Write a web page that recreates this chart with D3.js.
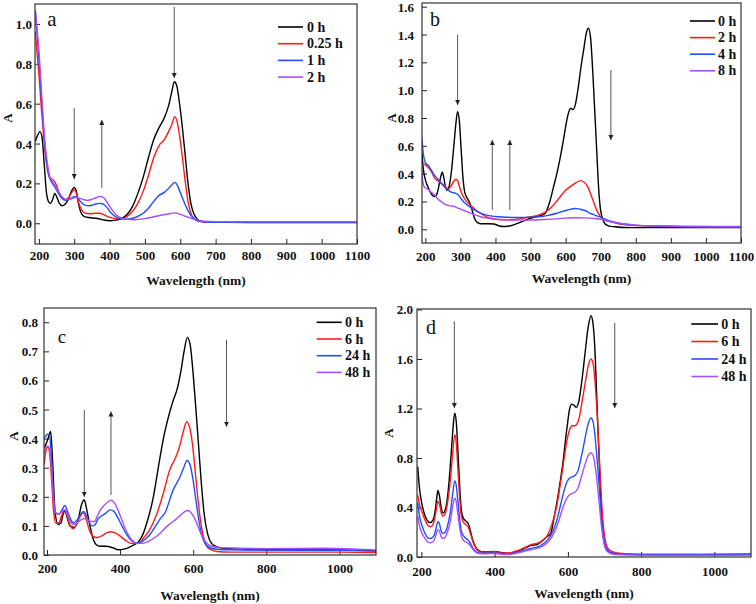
<!DOCTYPE html>
<html><head><meta charset="utf-8">
<script src="https://cdn.jsdelivr.net/npm/d3@7"></script>
<style>
html,body{margin:0;padding:0;background:#fff;}
svg text{font-family:"Liberation Serif","Times New Roman",serif;}
</style></head>
<body><svg id="chart" width="756" height="604"></svg>
<script>
// ---------- DATA ----------
const seriesColors = ["#000000", "#ff1a1a", "#1f4fff", "#a84cff"];

const labelsA = ["0 h", "0.25 h", "1 h", "2 h"];
const labelsB = ["0 h", "2 h", "4 h", "8 h"];
const labelsC = ["0 h", "6 h", "24 h", "48 h"];
const labelsD = ["0 h", "6 h", "24 h", "48 h"];

const xTicksAB = [200,300,400,500,600,700,800,900,1000,1100];
const xTicksCD = [200,400,600,800,1000];
const yTicksA = [0.0,0.2,0.4,0.6,0.8,1.0];
const yTicksB = [0.0,0.2,0.4,0.6,0.8,1.0,1.2,1.4,1.6];
const yTicksC = [0.0,0.1,0.2,0.3,0.4,0.5,0.6,0.7,0.8];
const yTicksD = [0.0,0.4,0.8,1.2,1.6,2.0];

// panel a: [wavelength nm, absorbance]
const a0h = [[190,0.41],[196,0.44],[203,0.46],[209,0.43],[215,0.3],[221,0.16],[227,0.11],[233,0.10],[239,0.12],[245,0.15],[251,0.13],[258,0.1],[266,0.088],[274,0.095],[283,0.12],[292,0.16],[300,0.18],[306,0.16],[313,0.09],[320,0.05],[330,0.032],[345,0.028],[362,0.025],[380,0.018],[400,0.013],[418,0.016],[435,0.025],[450,0.045],[465,0.085],[480,0.15],[495,0.23],[510,0.33],[525,0.42],[540,0.48],[555,0.53],[567,0.59],[576,0.66],[583,0.71],[590,0.69],[598,0.60],[606,0.48],[614,0.34],[622,0.2],[630,0.1],[638,0.05],[648,0.02],[660,0.01],[680,0.005],[800,0.004],[1100,0.004]];
const a025h = [[190,0.96],[195,0.85],[200,0.75],[206,0.6],[212,0.47],[218,0.35],[224,0.27],[230,0.23],[237,0.22],[244,0.21],[250,0.19],[258,0.15],[266,0.125],[275,0.12],[285,0.13],[293,0.155],[300,0.168],[306,0.15],[313,0.1],[322,0.065],[332,0.05],[345,0.048],[360,0.05],[372,0.05],[385,0.042],[400,0.03],[418,0.022],[435,0.022],[450,0.035],[465,0.06],[480,0.1],[495,0.16],[510,0.24],[525,0.33],[540,0.39],[555,0.42],[567,0.46],[577,0.5],[584,0.535],[591,0.51],[598,0.44],[606,0.33],[614,0.21],[622,0.11],[630,0.05],[640,0.02],[655,0.01],[680,0.005],[800,0.005],[1100,0.005]];
const a1h = [[190,1.06],[195,0.95],[200,0.83],[206,0.66],[212,0.5],[218,0.37],[224,0.28],[230,0.23],[238,0.2],[246,0.18],[255,0.15],[265,0.125],[275,0.115],[285,0.12],[295,0.13],[302,0.135],[310,0.125],[320,0.105],[332,0.09],[345,0.088],[358,0.095],[370,0.1],[380,0.098],[392,0.08],[405,0.05],[420,0.03],[435,0.022],[450,0.02],[465,0.025],[480,0.035],[495,0.05],[510,0.075],[525,0.11],[540,0.14],[555,0.155],[567,0.175],[577,0.195],[584,0.205],[592,0.19],[600,0.155],[610,0.11],[620,0.07],[632,0.035],[645,0.015],[660,0.008],[680,0.005],[800,0.005],[1100,0.005]];
const a2h = [[190,1.07],[195,0.97],[200,0.87],[206,0.7],[212,0.53],[218,0.39],[224,0.3],[230,0.24],[238,0.21],[246,0.19],[255,0.16],[265,0.135],[275,0.12],[285,0.12],[295,0.125],[305,0.13],[315,0.125],[325,0.12],[337,0.115],[350,0.12],[362,0.128],[375,0.135],[385,0.125],[395,0.1],[408,0.065],[420,0.04],[435,0.025],[450,0.02],[470,0.018],[495,0.022],[520,0.03],[545,0.04],[570,0.048],[585,0.052],[600,0.045],[615,0.035],[630,0.025],[648,0.015],[665,0.01],[700,0.008],[800,0.007],[1100,0.007]];

// panel b
const b0h = [[190,0.55],[195,0.42],[202,0.34],[210,0.29],[218,0.25],[226,0.235],[234,0.26],[240,0.33],[245,0.39],[248,0.41],[252,0.38],[257,0.31],[262,0.28],[268,0.31],[275,0.43],[282,0.62],[288,0.78],[292,0.845],[297,0.78],[302,0.58],[307,0.38],[312,0.27],[318,0.23],[325,0.2],[332,0.15],[340,0.08],[348,0.05],[360,0.04],[380,0.04],[395,0.038],[410,0.025],[420,0.02],[435,0.022],[455,0.035],[475,0.055],[495,0.075],[515,0.09],[530,0.1],[540,0.11],[555,0.2],[565,0.3],[575,0.4],[585,0.52],[595,0.66],[603,0.78],[610,0.85],[615,0.87],[621,0.86],[628,0.9],[636,1.02],[644,1.17],[652,1.3],[659,1.41],[665,1.445],[671,1.38],[677,1.15],[683,0.85],[689,0.55],[694,0.3],[699,0.15],[705,0.08],[712,0.04],[722,0.025],[740,0.018],[780,0.012],[900,0.012],[1100,0.012]];
const b2h = [[195,0.47],[202,0.46],[210,0.44],[218,0.41],[226,0.37],[235,0.35],[245,0.33],[252,0.32],[260,0.3],[266,0.29],[273,0.31],[280,0.34],[287,0.36],[292,0.35],[298,0.3],[305,0.25],[315,0.21],[325,0.18],[335,0.16],[345,0.135],[360,0.11],[375,0.09],[390,0.078],[405,0.072],[420,0.068],[440,0.068],[460,0.072],[480,0.08],[500,0.09],[520,0.1],[540,0.12],[560,0.16],[580,0.22],[600,0.28],[615,0.31],[630,0.335],[643,0.35],[652,0.34],[662,0.31],[672,0.25],[682,0.18],[692,0.12],[702,0.085],[715,0.065],[735,0.05],[760,0.035],[800,0.027],[900,0.02],[1000,0.018],[1100,0.016]];
const b4h = [[190,0.66],[194,0.55],[200,0.48],[208,0.46],[216,0.43],[226,0.39],[236,0.36],[246,0.33],[256,0.3],[266,0.28],[276,0.265],[285,0.26],[293,0.25],[302,0.22],[312,0.19],[325,0.165],[340,0.14],[355,0.12],[370,0.105],[390,0.095],[410,0.09],[430,0.087],[450,0.085],[475,0.085],[500,0.087],[525,0.09],[550,0.1],[575,0.115],[600,0.135],[615,0.145],[628,0.15],[640,0.145],[655,0.135],[670,0.115],[685,0.1],[700,0.085],[715,0.07],[735,0.055],[760,0.04],[790,0.03],[850,0.025],[950,0.02],[1100,0.017]];
const b8h = [[190,0.42],[193,0.34],[198,0.3],[206,0.29],[215,0.27],[225,0.25],[235,0.22],[245,0.2],[255,0.18],[268,0.17],[282,0.165],[295,0.15],[310,0.135],[325,0.12],[340,0.105],[358,0.09],[375,0.08],[395,0.073],[420,0.07],[450,0.067],[480,0.066],[510,0.067],[540,0.07],[570,0.075],[600,0.08],[630,0.083],[655,0.082],[680,0.078],[700,0.072],[720,0.06],[740,0.05],[765,0.04],[800,0.03],[850,0.025],[950,0.02],[1100,0.02]];

// panel c
const c0h = [[193,0.37],[200,0.39],[205,0.41],[210,0.425],[215,0.33],[222,0.15],[230,0.105],[238,0.11],[244,0.14],[249,0.152],[255,0.13],[263,0.1],[274,0.095],[285,0.12],[295,0.175],[302,0.19],[308,0.16],[316,0.11],[325,0.06],[335,0.035],[345,0.03],[360,0.03],[380,0.025],[395,0.018],[410,0.02],[430,0.03],[450,0.045],[462,0.07],[473,0.11],[491,0.2],[508,0.327],[520,0.41],[530,0.464],[545,0.53],[556,0.57],[566,0.63],[575,0.70],[584,0.748],[592,0.72],[600,0.62],[608,0.49],[615,0.37],[622,0.25],[630,0.14],[640,0.07],[650,0.04],[665,0.028],[690,0.022],[800,0.018],[1000,0.017],[1100,0.015]];
const c6h = [[192,0.31],[196,0.35],[200,0.37],[204,0.37],[208,0.34],[213,0.25],[218,0.15],[224,0.11],[232,0.11],[240,0.135],[249,0.155],[256,0.13],[264,0.1],[272,0.09],[282,0.11],[292,0.135],[300,0.145],[308,0.12],[316,0.085],[325,0.065],[335,0.06],[348,0.065],[362,0.075],[375,0.08],[388,0.075],[400,0.065],[415,0.05],[430,0.04],[450,0.04],[465,0.06],[480,0.085],[500,0.14],[520,0.22],[535,0.29],[550,0.33],[562,0.37],[572,0.42],[582,0.458],[590,0.44],[598,0.38],[606,0.28],[614,0.18],[622,0.1],[632,0.045],[645,0.02],[665,0.012],[700,0.01],[800,0.01],[1000,0.01],[1100,0.008]];
const c24h = [[192,0.4],[197,0.41],[202,0.415],[207,0.41],[212,0.34],[218,0.2],[224,0.145],[232,0.14],[241,0.155],[249,0.17],[256,0.15],[264,0.125],[272,0.11],[282,0.12],[292,0.14],[300,0.15],[308,0.135],[316,0.11],[324,0.1],[332,0.105],[340,0.125],[350,0.135],[362,0.145],[373,0.155],[383,0.15],[393,0.13],[405,0.1],[418,0.07],[432,0.048],[447,0.04],[462,0.048],[478,0.065],[495,0.095],[510,0.125],[522,0.143],[545,0.223],[564,0.269],[574,0.3],[583,0.325],[590,0.315],[598,0.27],[606,0.2],[614,0.13],[622,0.075],[632,0.04],[645,0.025],[665,0.02],[700,0.018],[800,0.017],[1000,0.016],[1100,0.013]];
const c48h = [[192,0.35],[197,0.37],[202,0.375],[207,0.365],[212,0.3],[218,0.19],[224,0.145],[232,0.14],[241,0.15],[249,0.155],[256,0.14],[264,0.115],[272,0.105],[282,0.11],[292,0.12],[300,0.125],[310,0.12],[320,0.115],[330,0.115],[338,0.135],[346,0.155],[356,0.17],[366,0.182],[375,0.188],[384,0.18],[394,0.155],[405,0.12],[418,0.08],[432,0.052],[447,0.04],[462,0.04],[478,0.047],[495,0.06],[510,0.075],[525,0.095],[540,0.11],[555,0.125],[568,0.14],[578,0.15],[586,0.153],[594,0.145],[604,0.125],[614,0.095],[624,0.065],[636,0.042],[650,0.03],[670,0.026],[720,0.024],[800,0.022],[950,0.023],[1050,0.02],[1100,0.017]];

// panel d
const d0h = [[190,0.73],[195,0.55],[200,0.45],[207,0.36],[215,0.3],[224,0.278],[232,0.3],[238,0.38],[242,0.48],[245,0.537],[249,0.5],[254,0.4],[259,0.355],[265,0.38],[272,0.5],[278,0.7],[284,0.95],[288,1.1],[291,1.163],[295,1.1],[299,0.9],[304,0.6],[309,0.38],[315,0.31],[322,0.29],[328,0.27],[333,0.22],[340,0.14],[348,0.08],[358,0.05],[370,0.04],[385,0.043],[398,0.045],[410,0.04],[425,0.032],[440,0.03],[455,0.04],[470,0.055],[485,0.075],[500,0.095],[516,0.1],[530,0.13],[545,0.17],[553,0.19],[563,0.33],[571,0.46],[585,0.73],[598,1.055],[605,1.2],[611,1.235],[617,1.225],[623,1.21],[630,1.26],[638,1.42],[647,1.65],[655,1.85],[663,1.95],[668,1.9],[673,1.72],[680,1.2],[685,0.82],[690,0.46],[695,0.22],[700,0.1],[707,0.05],[720,0.03],[750,0.025],[800,0.02],[1000,0.018],[1100,0.022]];
const d6h = [[190,0.5],[195,0.42],[202,0.36],[210,0.3],[218,0.255],[226,0.245],[234,0.28],[240,0.37],[245,0.45],[249,0.43],[254,0.36],[259,0.33],[265,0.35],[272,0.45],[279,0.62],[285,0.82],[291,0.988],[295,0.93],[299,0.75],[304,0.5],[309,0.33],[315,0.28],[322,0.26],[328,0.24],[334,0.19],[341,0.12],[349,0.07],[358,0.045],[370,0.038],[385,0.04],[398,0.042],[410,0.038],[425,0.03],[440,0.032],[455,0.045],[470,0.06],[485,0.08],[500,0.1],[515,0.11],[530,0.13],[545,0.18],[558,0.28],[570,0.42],[580,0.6],[590,0.8],[598,0.95],[605,1.03],[612,1.06],[618,1.06],[624,1.07],[632,1.14],[640,1.28],[648,1.42],[656,1.55],[663,1.6],[669,1.56],[674,1.42],[680,1.15],[686,0.8],[692,0.45],[698,0.22],[704,0.11],[712,0.06],[725,0.04],[750,0.028],[800,0.02],[1000,0.02],[1100,0.022]];
const d24h = [[190,0.44],[195,0.33],[202,0.25],[210,0.19],[218,0.155],[226,0.15],[234,0.17],[240,0.23],[245,0.285],[249,0.27],[254,0.21],[259,0.19],[265,0.2],[272,0.26],[279,0.36],[285,0.5],[291,0.615],[295,0.58],[299,0.47],[304,0.32],[309,0.21],[315,0.17],[322,0.15],[328,0.135],[334,0.11],[341,0.07],[349,0.045],[358,0.032],[370,0.03],[385,0.032],[398,0.033],[410,0.03],[425,0.025],[440,0.025],[455,0.033],[470,0.045],[485,0.058],[500,0.07],[515,0.08],[530,0.1],[545,0.14],[558,0.2],[570,0.3],[580,0.42],[590,0.54],[598,0.61],[606,0.64],[613,0.65],[620,0.66],[628,0.7],[636,0.8],[645,0.93],[654,1.06],[663,1.123],[669,1.09],[674,0.98],[680,0.78],[686,0.55],[692,0.3],[698,0.15],[704,0.08],[712,0.045],[725,0.03],[750,0.022],[800,0.018],[950,0.02],[1000,0.022],[1100,0.02]];
const d48h = [[190,0.33],[195,0.25],[202,0.19],[210,0.15],[218,0.12],[226,0.115],[234,0.13],[240,0.18],[245,0.22],[249,0.21],[254,0.165],[259,0.15],[265,0.16],[272,0.21],[279,0.29],[285,0.4],[291,0.475],[295,0.45],[299,0.36],[304,0.25],[309,0.17],[315,0.135],[322,0.12],[328,0.11],[334,0.09],[341,0.06],[349,0.038],[358,0.028],[370,0.025],[385,0.027],[398,0.028],[410,0.025],[425,0.02],[440,0.02],[455,0.028],[470,0.038],[485,0.05],[500,0.06],[515,0.07],[530,0.085],[545,0.12],[558,0.17],[570,0.25],[580,0.34],[590,0.43],[598,0.48],[606,0.505],[613,0.515],[620,0.525],[628,0.56],[636,0.64],[645,0.73],[654,0.81],[663,0.84],[669,0.82],[674,0.74],[680,0.6],[686,0.42],[692,0.24],[698,0.12],[704,0.06],[712,0.035],[725,0.022],[750,0.018],[800,0.015],[1000,0.015],[1100,0.015]];

// arrows: [wavelength, fromA, toA]
const arrowsA = [[583,1.085,0.729],[300,0.578,0.222],[378,0.177,0.518]];
const arrowsB = [[292,1.397,0.894],[391,0.139,0.642],[441,0.139,0.642],[729,1.145,0.642]];
const arrowsC = [[302,0.498,0.2],[375,0.206,0.493],[691,0.739,0.441]];
const arrowsD = [[290,1.905,1.204],[728,1.892,1.204]];

// ---------- DRAW ----------
const svg = d3.select("#chart");
const defs = svg.append("defs");
defs.append("marker").attr("id","ah").attr("viewBox","0 0 10 10").attr("refX",10).attr("refY",5)
  .attr("markerWidth",5).attr("markerHeight",6).attr("markerUnits","userSpaceOnUse").attr("orient","auto")
  .append("path").attr("d","M0,0L10,5L0,10Z").attr("fill","#222");

const panels = [
  {id:"a", L:35, T:4, R:357, B:244, xd:[189,1100], yd:[-0.104,1.10], xt:xTicksAB, yt:yTicksA,
   series:[a0h,a025h,a1h,a2h], labels:labelsA, arrows:arrowsA,
   leg:{x1:278,x2:303,tx:307,y0:27,dy:16.7}, letter:{x:52,y:19,s:21},
   xlY:255, titleY:280, ylX:32, aX:7, aY:118},
  {id:"b", L:422, T:3, R:741, B:243, xd:[190.5,1100], yd:[-0.0985,1.6266], xt:xTicksAB, yt:yTicksB,
   series:[b0h,b2h,b4h,b8h], labels:labelsB, arrows:arrowsB,
   leg:{x1:690,x2:715,tx:718,y0:21,dy:16.6}, letter:{x:435,y:19,s:20},
   xlY:256.7, titleY:278, ylX:414, aX:391, aY:118},
  {id:"c", L:44, T:308, R:376, B:555, xd:[191.8,1100], yd:[0,0.849], xt:xTicksCD, yt:yTicksC,
   series:[c0h,c6h,c24h,c48h], labels:labelsC, arrows:arrowsC,
   leg:{x1:316.7,x2:341.7,tx:345,y0:322.3,dy:16.7}, letter:{x:62,y:336,s:19},
   xlY:568, titleY:595, ylX:38, aX:13, aY:436},
  {id:"d", L:417, T:309, R:751, B:557, xd:[188,1100], yd:[0,2.004], xt:xTicksCD, yt:yTicksD,
   series:[d0h,d6h,d24h,d48h], labels:labelsD, arrows:arrowsD,
   leg:{x1:691.3,x2:718,tx:721.3,y0:324,dy:17.5}, letter:{x:431,y:327,s:20},
   xlY:571, titleY:593, ylX:413, aX:388, aY:433}
];

const fmt = d3.format(".1f");

panels.forEach(p => {
  const x = d3.scaleLinear().domain(p.xd).range([p.L, p.R]);
  const y = d3.scaleLinear().domain(p.yd).range([p.B, p.T]);
  const g = svg.append("g");

  defs.append("clipPath").attr("id","clip-"+p.id).append("rect")
    .attr("x",p.L).attr("y",p.T).attr("width",p.R-p.L).attr("height",p.B-p.T);

  // axes (ticks inward)
  const xa = d3.axisBottom(x).tickValues(p.xt).tickSizeInner(-5).tickSizeOuter(0).tickFormat(d3.format("d"));
  const ya = d3.axisLeft(y).tickValues(p.yt).tickSizeInner(-5).tickSizeOuter(0).tickFormat(fmt);
  const gx = g.append("g").attr("transform",`translate(0,${p.B})`).call(xa);
  const gy = g.append("g").attr("transform",`translate(${p.L},0)`).call(ya);
  [gx,gy].forEach(a => {
    a.select(".domain").remove();
    a.selectAll(".tick line").attr("stroke","#222").attr("stroke-width",1);
    a.selectAll("text").attr("font-family","Liberation Serif, serif").attr("font-weight","bold")
      .attr("font-size",13).attr("fill","#111");
  });
  gx.selectAll("text").attr("y", null).attr("dy", null)
    .attr("transform", null).each(function(){ d3.select(this).attr("y", p.xlY - p.B).attr("dominant-baseline","central"); });
  gy.selectAll("text").attr("x", p.ylX - p.L).attr("dy", null).attr("dominant-baseline","central");

  // lines
  const line = d3.line().x(d => x(d[0])).y(d => y(d[1])).curve(d3.curveMonotoneX);
  const lg = g.append("g").attr("clip-path",`url(#clip-${p.id})`);
  p.series.forEach((s,i) => {
    lg.append("path").datum(s).attr("d",line).attr("fill","none")
      .attr("stroke",seriesColors[i]).attr("stroke-width",1.4).attr("stroke-linejoin","round");
  });

  // arrows
  p.arrows.forEach(a => {
    g.append("line").attr("x1",x(a[0])).attr("x2",x(a[0])).attr("y1",y(a[1])).attr("y2",y(a[2]))
      .attr("stroke","#555").attr("stroke-width",1).attr("marker-end","url(#ah)");
  });

  // frame
  g.append("rect").attr("x",p.L).attr("y",p.T).attr("width",p.R-p.L).attr("height",p.B-p.T)
    .attr("fill","none").attr("stroke","#333").attr("stroke-width",1.2);

  // legend
  p.labels.forEach((lab,i) => {
    const yy = p.leg.y0 + i*p.leg.dy;
    g.append("line").attr("x1",p.leg.x1).attr("x2",p.leg.x2).attr("y1",yy).attr("y2",yy)
      .attr("stroke",seriesColors[i]).attr("stroke-width",1.6);
    g.append("text").attr("x",p.leg.tx).attr("y",yy).attr("dominant-baseline","central")
      .attr("font-weight","bold").attr("font-size",14).attr("fill","#111").text(lab);
  });

  // panel letter
  g.append("text").attr("x",p.letter.x).attr("y",p.letter.y).attr("text-anchor","middle")
    .attr("dominant-baseline","central").attr("font-size",p.letter.s).attr("fill","#111").text(p.id);

  // axis titles
  g.append("text").attr("x",(p.L+p.R)/2).attr("y",p.titleY).attr("text-anchor","middle")
    .attr("dominant-baseline","central").attr("font-weight","bold").attr("font-size",13.5).attr("fill","#111")
    .text("Wavelength (nm)");
  g.append("text").attr("transform",`translate(${p.aX},${p.aY}) rotate(-90)`).attr("text-anchor","middle")
    .attr("dominant-baseline","central").attr("font-weight","bold").attr("font-size",13).attr("fill","#111").text("A");
});
</script></body></html>
